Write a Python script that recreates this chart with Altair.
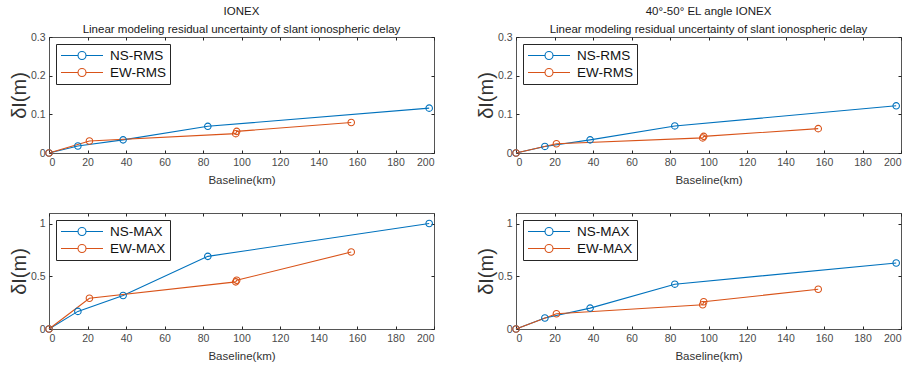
import altair as alt
import pandas as pd

# ---- data ----
baseline_ns = [0, 15, 38.5, 82.5, 197.5]
baseline_ew = [0, 21, 97, 97.5, 157]

ionex_ns_rms = [0, 0.018, 0.034, 0.069, 0.116]
ionex_ew_rms = [0, 0.031, 0.050, 0.056, 0.079]
el_ns_rms = [0, 0.017, 0.034, 0.070, 0.122]
el_ew_rms = [0, 0.024, 0.039, 0.043, 0.063]
ionex_ns_max = [0, 0.167, 0.318, 0.689, 1.0]
ionex_ew_max = [0, 0.292, 0.447, 0.462, 0.73]
el_ns_max = [0, 0.104, 0.198, 0.425, 0.626]
el_ew_max = [0, 0.145, 0.230, 0.258, 0.377]

title_left = ["IONEX", "Linear modeling residual uncertainty of slant ionospheric delay"]
title_right = ["40°-50° EL angle IONEX", "Linear modeling residual uncertainty of slant ionospheric delay"]
rms_labels = ["NS-RMS", "EW-RMS"]
max_labels = ["NS-MAX", "EW-MAX"]
x_ticks = [0, 20, 40, 60, 80, 100, 120, 140, 160, 180, 200]
rms_ticks = [0, 0.1, 0.2, 0.3]
max_ticks = [0, 0.5, 1]

COLORS = ["#0072BD", "#D95319"]
FONT = "Liberation Sans"
AX = "#262626"
SYMBOL = "M-1,0L-0.19,0M0.19,0L1,0M0.19,0A0.19,0.19 0 1,1 -0.19,0A0.19,0.19 0 1,1 0.19,0Z"


def panel(ns_vals, ew_vals, labels, ymax, yticks, title):
    df = pd.DataFrame({
        "x": baseline_ns + baseline_ew,
        "y": ns_vals + ew_vals,
        "series": [labels[0]] * len(ns_vals) + [labels[1]] * len(ew_vals),
        "idx": list(range(len(ns_vals))) + list(range(len(ew_vals))),
    })
    xs = alt.Scale(domain=[0, 200], nice=False, zero=False)
    ys = alt.Scale(domain=[0, ymax], nice=False, zero=False)
    legend = alt.Legend(
        title=None, orient="top-left", offset=7, padding=4,
        strokeColor=AX, fillColor="white", cornerRadius=0,
        symbolType=SYMBOL, symbolSize=1764, symbolStrokeWidth=1.1,
        symbolFillColor="transparent", symbolOffset=0,
        clipHeight=15, rowPadding=2, labelOffset=6,
        labelFont=FONT, labelFontSize=13.5, labelColor="#111111",
    )
    color = alt.Color("series:N", scale=alt.Scale(domain=labels, range=COLORS), legend=legend)

    line = alt.Chart(df).mark_line(strokeWidth=1.1).encode(
        x=alt.X("x:Q", scale=xs, axis=alt.Axis(
            orient="bottom", values=x_ticks, format="d", title="Baseline(km)",
            ticks=False, domain=False, grid=False, labelPadding=4, titlePadding=7,
            labelFontSize=10.5, titleFontSize=11.5)),
        y=alt.Y("y:Q", scale=ys, axis=alt.Axis(
            orient="left", values=yticks, format="~g", title="δI(m)",
            ticks=False, domain=False, grid=False, labelPadding=4, titlePadding=1,
            labelFontSize=10.5, titleFontSize=20)),
        color=color,
        order="idx:Q",
    )
    pts = alt.Chart(df).mark_point(shape="circle", filled=False, size=42, strokeWidth=1.1, opacity=1).encode(
        x=alt.X("x:Q", scale=xs, axis=alt.Axis(
            orient="top", values=x_ticks, labels=False, title=None, domain=False,
            grid=False, tickSize=3, offset=-3, tickColor=AX)),
        y=alt.Y("y:Q", scale=ys, axis=alt.Axis(
            orient="right", values=yticks, labels=False, title=None, domain=False,
            grid=False, tickSize=3, offset=-3, tickColor=AX)),
        color=color,
    )
    ticks = alt.Chart(df).mark_point(opacity=0).encode(
        x=alt.X("x:Q", scale=xs, axis=alt.Axis(
            orient="bottom", values=x_ticks, labels=False, title=None, domain=False,
            grid=False, tickSize=3, offset=-3, tickColor=AX)),
        y=alt.Y("y:Q", scale=ys, axis=alt.Axis(
            orient="left", values=yticks, labels=False, title=None, domain=False,
            grid=False, tickSize=3, offset=-3, tickColor=AX)),
    )
    layered = alt.layer(line, pts, ticks).resolve_axis(x="independent", y="independent")
    props = dict(width=385, height=116)
    if title:
        props["title"] = alt.Title(title, anchor="middle", fontSize=11.5, fontWeight="normal",
                                   font=FONT, color="#1a1a1a", lineHeight=18, offset=-3)
    return layered.properties(**props)


p1 = panel(ionex_ns_rms, ionex_ew_rms, rms_labels, 0.3, rms_ticks, title_left)
p2 = panel(el_ns_rms, el_ew_rms, rms_labels, 0.3, rms_ticks, title_right)
p3 = panel(ionex_ns_max, ionex_ew_max, max_labels, 1.1, max_ticks, None)
p4 = panel(el_ns_max, el_ew_max, max_labels, 1.1, max_ticks, None)

chart = alt.concat(
    p1, p2, p3, p4, columns=2, spacing={"row": 60, "column": 82}, bounds="flush"
).resolve_scale(
    color="independent"
).properties(
    padding={"left": 8, "top": 5, "right": 5, "bottom": 5},
    background="white",
).configure_view(
    stroke="#555555", strokeWidth=1
).configure_axis(
    labelFont=FONT, titleFont=FONT, labelColor="#4a4a4a", titleColor="#333333",
    titleFontWeight="normal",
)

chart.save("out.html", embed_options={"renderer": "svg", "actions": False})
